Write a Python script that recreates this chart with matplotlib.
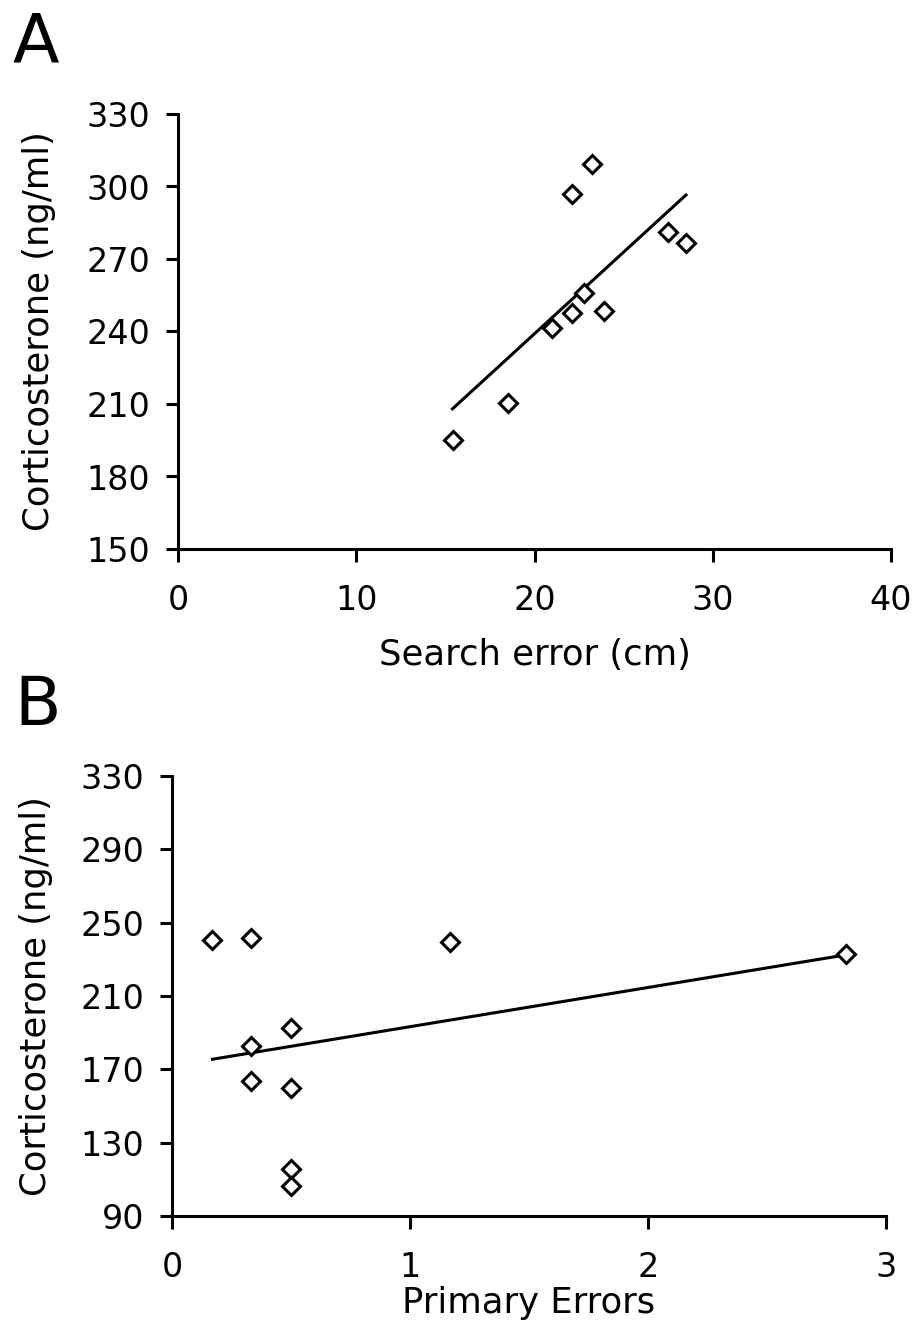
import matplotlib
matplotlib.use("Agg")
import matplotlib.pyplot as plt
import numpy as np

plt.rcParams['font.family'] = ['DejaVu Sans']

# Panel A data
a_x = [15.4, 18.5, 21.0, 22.1, 22.1, 22.8, 23.2, 23.9, 27.5, 28.5]
a_y = [195.0, 210.5, 241.5, 247.5, 297.0, 256.0, 309.5, 248.5, 281.0, 276.5]
a_trend_x = [15.4, 28.5]
a_trend_y = [208.0, 296.5]
a_xticks = [0, 10, 20, 30, 40]
a_yticks = [150, 180, 210, 240, 270, 300, 330]

# Panel B data
b_x = [0.17, 0.33, 1.17, 2.83, 0.50, 0.33, 0.33, 0.50, 0.50, 0.50]
b_y = [240.7, 241.5, 239.6, 232.9, 192.7, 182.9, 163.8, 160.0, 115.5, 106.5]
b_trend_x = [0.17, 2.83]
b_trend_y = [175.5, 232.4]
b_xticks = [0, 1, 2, 3]
b_yticks = [90, 130, 170, 210, 250, 290, 330]

W, H = 913, 1332
fig = plt.figure(figsize=(W / 100, H / 100), dpi=100)

axA = fig.add_axes([178 / W, 1 - 549 / H, 713 / W, 435 / H])
axB = fig.add_axes([172 / W, 1 - 1216 / H, 714 / W, 440 / H])

def style(ax, xt, yt, xlabel, xlp, ylp):
    for s in ['top', 'right']:
        ax.spines[s].set_visible(False)
    for s in ['left', 'bottom']:
        ax.spines[s].set_linewidth(2.2)
    ax.set_xlim(xt[0], xt[-1])
    ax.set_ylim(yt[0], yt[-1])
    ax.set_xticks(xt)
    ax.set_yticks(yt)
    ax.tick_params(direction='out', length=9, width=2.2, labelsize=24)
    ax.tick_params(axis='x', pad=16)
    ax.tick_params(axis='y', pad=11)
    ax.set_xlabel(xlabel, fontsize=25.5, labelpad=xlp)
    ax.set_ylabel('Corticosterone (ng/ml)', fontsize=25.5, labelpad=ylp)

axA.plot(a_trend_x, a_trend_y, color='black', lw=2.2)
axA.plot(a_x, a_y, 'D', ms=9.5, mfc='white', mec='black', mew=2.2, clip_on=False)
style(axA, a_xticks, a_yticks, 'Search error (cm)', 15, 22)

axB.plot(b_trend_x, b_trend_y, color='black', lw=2.2)
axB.plot(b_x, b_y, 'D', ms=9.5, mfc='white', mec='black', mew=2.2, clip_on=False)
style(axB, b_xticks, b_yticks, 'Primary Errors', 2, 20)

fig.text(12 / W, 1 - 63 / H, 'A', fontsize=49, ha='left', va='baseline')
fig.text(14 / W, 1 - 725 / H, 'B', fontsize=49, ha='left', va='baseline')

fig.savefig('out.png', dpi=100)
